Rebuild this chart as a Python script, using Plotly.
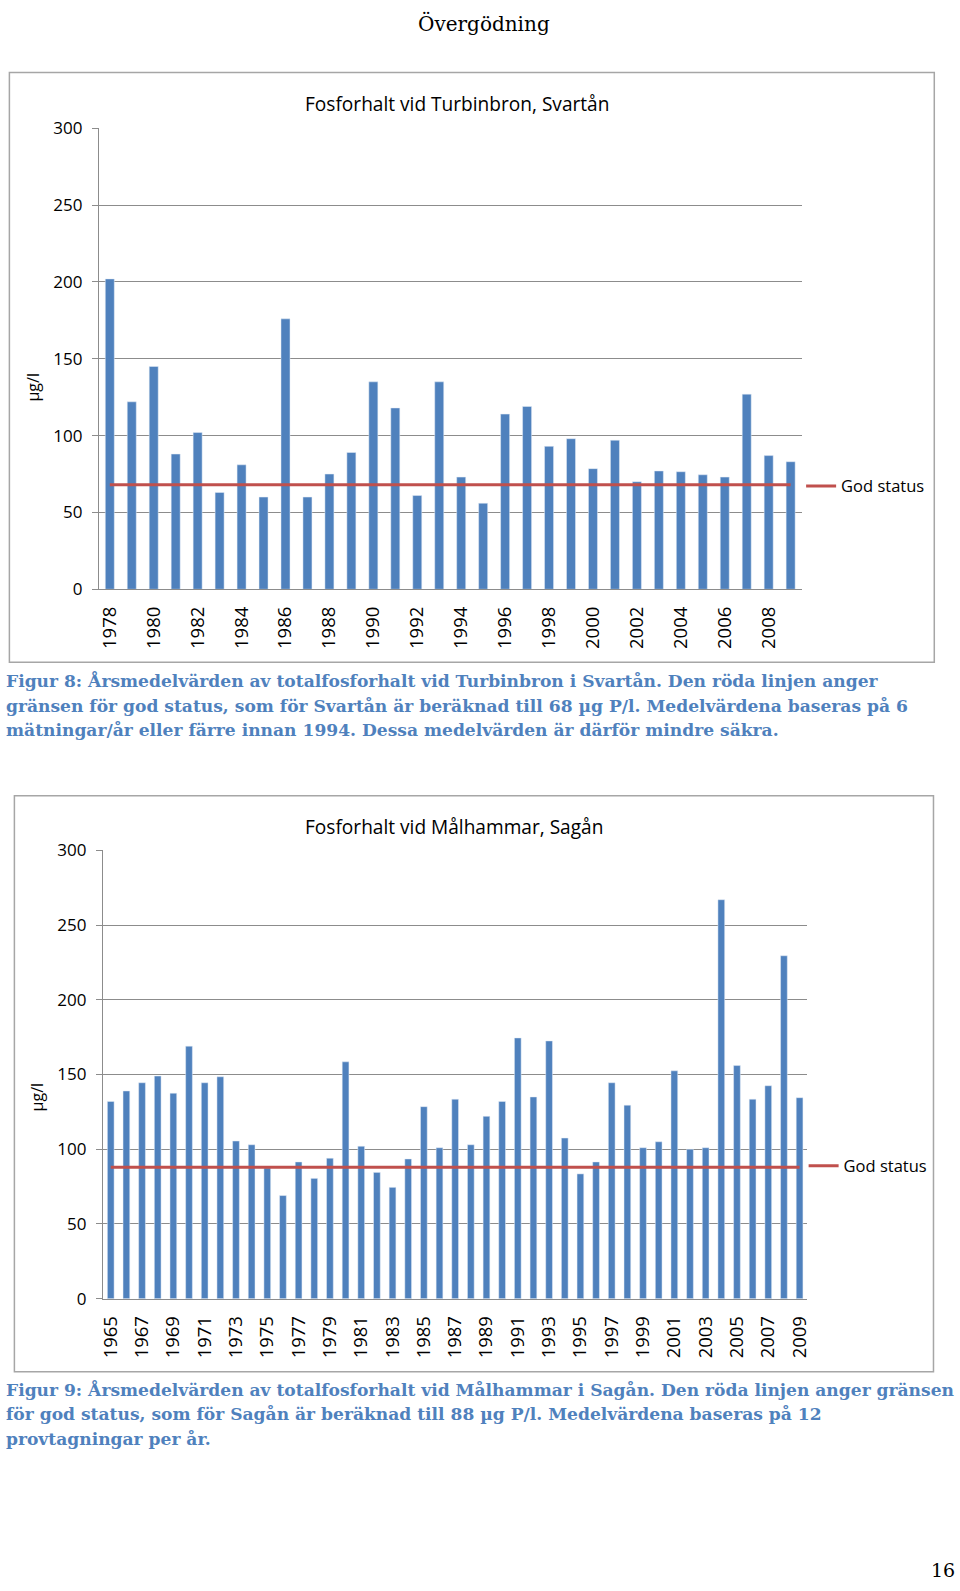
import plotly.graph_objects as go

# ---------------- data ----------------
years_svartan = [1978, 1979, 1980, 1981, 1982, 1983, 1984, 1985, 1986, 1987, 1988,
                 1989, 1990, 1991, 1992, 1993, 1994, 1995, 1996, 1997, 1998, 1999,
                 2000, 2001, 2002, 2003, 2004, 2005, 2006, 2007, 2008, 2009]
fosfor_svartan = [202, 122, 145, 88, 102, 63, 81, 60, 176, 60, 75,
                  89, 135, 118, 61, 135, 73, 56, 114, 119, 93, 98,
                  78.5, 97, 70, 77, 76.5, 74.5, 73, 127, 87, 83]
god_status_svartan = 68

years_sagan = [1965, 1966, 1967, 1968, 1969, 1970, 1971, 1972, 1973, 1974, 1975,
               1976, 1977, 1978, 1979, 1980, 1981, 1982, 1983, 1984, 1985, 1986,
               1987, 1988, 1989, 1990, 1991, 1992, 1993, 1994, 1995, 1996, 1997,
               1998, 1999, 2000, 2001, 2002, 2003, 2004, 2005, 2006, 2007, 2008, 2009]
fosfor_sagan = [132, 139, 144.5, 149, 137.5, 169, 144.5, 148.5, 105.5, 103, 87.5,
                69, 91.5, 80.5, 94, 158.5, 102, 84.5, 74.5, 93.5, 128.5, 101,
                133.5, 103, 122, 132, 174.5, 135, 172.5, 107.5, 83.5, 91.5, 144.5,
                129.5, 101, 105, 152.5, 100, 101, 267, 156, 133.5, 142.5, 229.5, 134.5]
god_status_sagan = 88

title_page = "Övergödning"
title_chart1 = "Fosforhalt vid Turbinbron, Svartån"
title_chart2 = "Fosforhalt vid Målhammar, Sagån"
y_title = "µg/l"
legend_label = "God status"
caption1 = ["Figur 8: Årsmedelvärden av totalfosforhalt vid Turbinbron i Svartån. Den röda linjen anger",
            "gränsen för god status, som för Svartån är beräknad till 68 µg P/l. Medelvärdena baseras på 6",
            "mätningar/år eller färre innan 1994. Dessa medelvärden är därför mindre säkra."]
caption2 = ["Figur 9: Årsmedelvärden av totalfosforhalt vid Målhammar i Sagån. Den röda linjen anger gränsen",
            "för god status, som för Sagån är beräknad till 88 µg P/l. Medelvärdena baseras på 12",
            "provtagningar per år."]
page_number = "16"

# ---------------- layout helpers ----------------
W, H = 960, 1591
def px(x):
    # target on-screen x -> paper fraction (empirical correction)
    return ((x - 4.6) / 0.9916) / W
def py(y):
    # target on-screen y -> paper fraction (empirical correction)
    return 1 - ((y - 13.05) / 0.985) / H

BAR = "#4F81BD"
RED = "#C0504D"
GRID = "#8C8C8C"
AXFONT = "Open Sans"
CAPFONT = "DejaVu Serif"
CAPCOL = "#4F81BD"

fig = go.Figure()

fig.add_trace(go.Bar(x=years_svartan, y=fosfor_svartan, marker_color=BAR,
                     width=0.41, xaxis="x", yaxis="y", showlegend=False))
fig.add_trace(go.Scatter(x=[years_svartan[0], years_svartan[-1]],
                         y=[god_status_svartan, god_status_svartan],
                         mode="lines", line=dict(color=RED, width=3),
                         name=legend_label, xaxis="x", yaxis="y", legend="legend"))

fig.add_trace(go.Bar(x=years_sagan, y=fosfor_sagan, marker_color=BAR,
                     width=0.43, xaxis="x2", yaxis="y2", showlegend=False))
fig.add_trace(go.Scatter(x=[years_sagan[0], years_sagan[-1]],
                         y=[god_status_sagan, god_status_sagan],
                         mode="lines", line=dict(color=RED, width=3),
                         name=legend_label, xaxis="x2", yaxis="y2", legend="legend2"))

yaxis_common = dict(range=[0, 300], tickvals=[0, 50, 100, 150, 200, 250, 300],
                    showgrid=True, gridcolor=GRID, gridwidth=1,
                    showline=True, linecolor=GRID, linewidth=1,
                    ticks="outside", ticklen=6, tickcolor=GRID,
                    tickfont=dict(family=AXFONT, size=17, color="#000"),
                    ticklabelstandoff=6, zeroline=False, fixedrange=True)
xaxis_common = dict(showgrid=False, showline=True, linecolor=GRID, linewidth=1,
                    ticks="", tickangle=-90,
                    tickfont=dict(family=AXFONT, size=18.5, color="#000"),
                    ticklabelstandoff=9, zeroline=False, fixedrange=True)

fig.update_layout(
    width=W, height=H,
    margin=dict(l=0, r=0, t=0, b=0),
    paper_bgcolor="white", plot_bgcolor="white",
    xaxis=dict(domain=[px(97.5), px(801)], range=[1977.5, 2009.5],
               tickvals=years_svartan[::2], anchor="y", **xaxis_common),
    yaxis=dict(domain=[py(590), py(129.3)], anchor="x", **yaxis_common),
    xaxis2=dict(domain=[px(101.6), px(806.8)], range=[1964.5, 2009.5],
                tickvals=years_sagan[::2], anchor="y2", **xaxis_common),
    yaxis2=dict(domain=[py(1299), py(851)], anchor="x2", **yaxis_common),
    legend=dict(x=px(800.5), y=py(487), xanchor="left", yanchor="middle",
                font=dict(family=AXFONT, size=16.5, color="#000"),
                bgcolor="rgba(0,0,0,0)", itemwidth=30),
    legend2=dict(x=px(803), y=py(1166.5), xanchor="left", yanchor="middle",
                 font=dict(family=AXFONT, size=16.5, color="#000"),
                 bgcolor="rgba(0,0,0,0)", itemwidth=30),
    showlegend=True,
)

shapes = [
    dict(type="rect", xref="paper", yref="paper", x0=px(8), x1=px(933.8), y0=py(663), y1=py(73.4),
         line=dict(color="#A6A6A6", width=1.5), fillcolor="rgba(0,0,0,0)", layer="below"),
    dict(type="rect", xref="paper", yref="paper", x0=px(13), x1=px(933), y0=py(1372), y1=py(796.4),
         line=dict(color="#A6A6A6", width=1.5), fillcolor="rgba(0,0,0,0)", layer="below"),
]
fig.update_layout(shapes=shapes)

ann = []
ann.append(dict(text=title_page, x=px(483), y=1, yshift=3, xref="paper", yref="paper",
                showarrow=False, font=dict(family=CAPFONT, size=20, color="#000"),
                xanchor="center", yanchor="top"))
ann.append(dict(text=title_chart1, x=px(456), y=py(105), xref="paper", yref="paper",
                showarrow=False, font=dict(family=AXFONT, size=19.1, color="#000"),
                xanchor="center", yanchor="middle"))
ann.append(dict(text=title_chart2, x=px(453), y=py(827.4), xref="paper", yref="paper",
                showarrow=False, font=dict(family=AXFONT, size=19.1, color="#000"),
                xanchor="center", yanchor="middle"))
ann.append(dict(text=y_title, x=px(32), y=py(388), xref="paper", yref="paper",
                showarrow=False, textangle=-90, font=dict(family=AXFONT, size=16, color="#000"),
                xanchor="center", yanchor="middle"))
ann.append(dict(text=y_title, x=px(35.5), y=py(1098), xref="paper", yref="paper",
                showarrow=False, textangle=-90, font=dict(family=AXFONT, size=16, color="#000"),
                xanchor="center", yanchor="middle"))
for i, line in enumerate(caption1):
    ann.append(dict(text="<b>" + line + "</b>", x=0, xshift=-2, y=py(681.5 + i * 24.8),
                    xref="paper", yref="paper", showarrow=False,
                    font=dict(family=CAPFONT, size=17.1, color=CAPCOL),
                    xanchor="left", yanchor="middle"))
for i, line in enumerate(caption2):
    ann.append(dict(text="<b>" + line + "</b>", x=0, xshift=-2, y=py(1389.3 + i * 24.8),
                    xref="paper", yref="paper", showarrow=False,
                    font=dict(family=CAPFONT, size=17.1, color=CAPCOL),
                    xanchor="left", yanchor="middle"))
ann.append(dict(text=page_number, x=1, y=0, yshift=-3, xref="paper", yref="paper",
                showarrow=False, font=dict(family=CAPFONT, size=19, color="#000"),
                xanchor="right", yanchor="bottom"))
fig.update_layout(annotations=ann)

fig.write_html("out.html")
